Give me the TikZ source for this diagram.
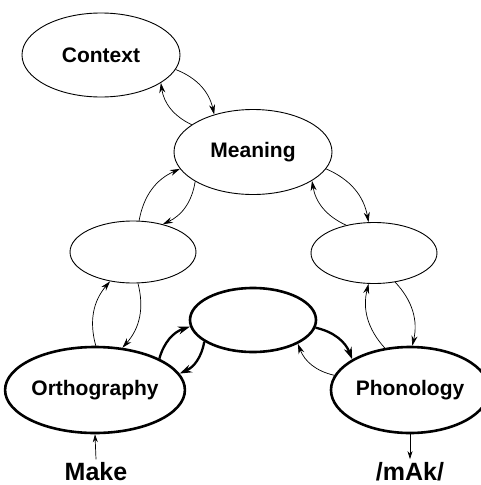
\documentclass[tikz,border=0pt]{standalone}
\usepackage{fontspec}
\setmainfont{Liberation Sans}
\usetikzlibrary{shapes.geometric,arrows.meta}
\begin{document}
\begin{tikzpicture}[x=1pt,y=1pt,
  thinell/.style={ellipse,draw,line width=0.9pt,inner sep=0pt},
  thickell/.style={ellipse,draw,line width=2.6pt,inner sep=0pt},
  lbl/.style={font=\fontsize{21}{24}\selectfont\bfseries},
  thinarr/.style={line width=0.7pt,-{Stealth[length=10pt,width=6pt]},bend left=28},
  thickarr/.style={line width=2.3pt,-{Stealth[length=12pt,width=8pt]},bend left=28},
  io/.style={font=\fontsize{25}{28}\selectfont\bfseries}]
\useasboundingbox (0,0) rectangle (480,-485);
\node[thinell,minimum width=158pt,minimum height=84pt,lbl] (ctx) at (101,-55) {Context};
\node[thinell,minimum width=158pt,minimum height=85pt,lbl] (mean) at (253,-152) {Meaning};
\node[thinell,minimum width=126pt,minimum height=62pt] (lh) at (133,-252) {};
\node[thinell,minimum width=126pt,minimum height=61pt] (rh) at (374,-253) {};
\node[thickell,minimum width=126pt,minimum height=64pt] (mid) at (253,-320) {};
\node[thickell,minimum width=158pt,minimum height=86pt,lbl] (orth) at (95,-390) {Orthography};
\node[thickell,minimum width=158pt,minimum height=86pt,lbl] (phon) at (410,-390) {Phonology};
\node[io] (make) at (96,-472) {Make};
\node[io] (mak) at (410,-472) {/mAk/};
\draw[thinarr] (ctx.-11.5) to (mean.136);
\draw[thinarr] (mean.156) to (ctx.-25);
\draw[thinarr] (mean.207) to (lh.43);
\draw[thinarr] (lh.79) to (mean.193.5);
\draw[thinarr] (mean.-13.5) to (rh.100);
\draw[thinarr] (rh.135) to (mean.-26);
\draw[thinarr] (lh.-81) to (orth.57);
\draw[thinarr] (orth.89) to (lh.-128);
\draw[thinarr] (rh.-54) to (phon.87.5);
\draw[thinarr] (phon.121) to (rh.-100);
\draw[thickarr] (orth.26.6) to (mid.186);
\draw[thickarr] (mid.204) to (orth.11);
\draw[thickarr] (mid.-7) to (phon.152);
\draw[thinarr] (phon.169) to (mid.-28);
\draw[line width=0.7pt,-{Stealth[length=8pt,width=5pt]}] (make.north) -- (orth.south);
\draw[line width=0.7pt,-{Stealth[length=8pt,width=5pt]}] (phon.south) -- (mak.north);
\end{tikzpicture}
\end{document}
